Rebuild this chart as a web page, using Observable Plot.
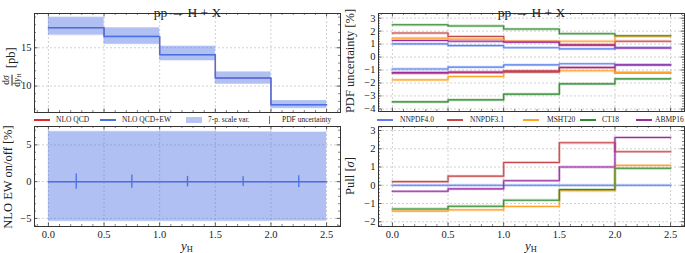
<!DOCTYPE html>
<html>
<head>
<meta charset="utf-8">
<script src="https://cdn.jsdelivr.net/npm/d3@7"></script>
<script src="https://cdn.jsdelivr.net/npm/@observablehq/plot@0.6"></script>
<style>
  html, body { margin: 0; padding: 0; background: #fff; }
  #root { position: relative; width: 685px; height: 253px; overflow: hidden; font-family: "Liberation Serif", serif; color: #222; }
  .abs { position: absolute; }
  .abs svg { display: block; }
  .ylab { position: absolute; transform: translate(-50%, -50%) rotate(-90deg); white-space: nowrap; font-size: 12.5px; line-height: 1; }
  .xlab { position: absolute; transform: translate(-50%, -50%); white-space: nowrap; font-size: 13px; line-height: 1; }
  .xlab sub, .ylab sub { font-size: 0.65em; vertical-align: -0.25em; font-style: normal; }
  .frac { display: inline-flex; flex-direction: column; align-items: center; vertical-align: middle; font-size: 9.5px; line-height: 1.05; margin-right: 2px; }
  .frac .num { border-bottom: 0.7px solid #222; padding: 0 1px; }
  .leg { position: absolute; font-size: 7.5px; line-height: 1; transform: translateY(-50%); white-space: nowrap; }
  .sw { position: absolute; }
</style>
</head>
<body>
<div id="root"></div>
<script>
// ---------- data ----------
const edges = [0, 0.5, 1.0, 1.5, 2.0, 2.5];
const binCenters = [0.25, 0.75, 1.25, 1.75, 2.25];
const xTickValues = [0, 0.5, 1.0, 1.5, 2.0, 2.5];
const title = "pp → H + X";

// top-left: dσ/dy_H [pb]
const xsecQCD   = [17.62, 16.49, 14.10, 11.05, 7.57];
const xsecQCDEW = [17.60, 16.47, 14.09, 11.04, 7.56];
const scaleHiQCD = [19.00, 17.64, 15.24, 11.86, 8.13];
const scaleLoQCD = [16.58, 15.38, 13.26, 10.22, 7.03];
const scaleHiEW  = [18.90, 17.56, 15.17, 11.80, 8.08];
const scaleLoEW  = [16.70, 15.50, 13.35, 10.30, 7.10];

// bottom-left: NLO EW on/off [%]
const ewQCD = [0, 0, 0, 0, 0];
const ewQCDEW = [0, 0, 0, 0, 0];
const ewScaleHiQCD = [6.85, 6.85, 6.85, 6.80, 6.75];
const ewScaleLoQCD = [-5.45, -5.45, -5.45, -5.45, -5.40];
const ewScaleHiEW = [6.75, 6.75, 6.75, 6.72, 6.68];
const ewScaleLoEW = [-5.35, -5.35, -5.35, -5.35, -5.32];
const pdfUncert = [1.05, 0.90, 0.72, 0.65, 0.80];

// top-right: PDF uncertainty [%]
const pdfSets = ["NNPDF4.0", "NNPDF3.1", "MSHT20", "CT18", "ABMP16"];
const pdfColors = ["#5b80ee", "#c8474a", "#ffa228", "#2f8a2f", "#9a2ca0"];
const nnpdf40Up = [1.02, 0.88, 0.72, 0.63, 0.72];
const nnpdf40Dn = [-0.92, -0.78, -0.60, -0.52, -0.60];
const nnpdf31Up = [1.85, 1.59, 1.20, 0.95, 1.22];
const nnpdf31Dn = [-1.25, -1.20, -1.06, -0.80, -1.20];
const msht20Up  = [1.46, 1.38, 1.22, 1.22, 1.60];
const msht20Dn  = [-1.76, -1.50, -1.17, -1.06, -1.20];
const ct18Up    = [2.49, 2.40, 2.16, 1.80, 1.64];
const ct18Dn    = [-3.46, -3.30, -2.86, -2.07, -1.68];
const abmp16Up  = [1.28, 1.22, 1.15, 0.92, 0.70];
const abmp16Dn  = [-1.19, -1.15, -1.14, -0.81, -0.60];

// bottom-right: Pull [σ]
const nnpdf40Pull = [0, 0, 0, 0, 0];
const nnpdf31Pull = [0.20, 0.50, 1.25, 2.33, 1.84];
const msht20Pull  = [-1.42, -1.35, -1.16, -0.30, 1.09];
const ct18Pull    = [-1.30, -1.15, -0.82, -0.24, 0.93];
const abmp16Pull  = [-0.33, -0.20, 0.25, 1.00, 2.62];

// ---------- helpers ----------
const blue = "#4a6fe3", red = "#e8242c";
const steps = vals => [...vals.map((v, i) => ({x: edges[i], y: v})), {x: edges[edges.length - 1], y: vals[vals.length - 1]}];
const band = (lo, hi) => [...lo.map((v, i) => ({x: edges[i], y1: v, y2: hi[i]})), {x: edges[edges.length - 1], y1: lo[lo.length - 1], y2: hi[hi.length - 1]}];
const xDomain = [-0.125, 2.625];
const xMinor = d3.range(-1, 27).map(i => i / 10).filter(v => Math.abs(v * 2 - Math.round(v * 2)) > 1e-6);

function panel({width, height, mt, mb, ml, mr, yDomain, yMajor, yMinor, xLabels, titleText, marks}) {
  const ih = height - mt - mb, iw = width - ml - mr;
  const tk = "#333";
  const yMin = yMinor.filter(v => v >= yDomain[0] && v <= yDomain[1] && !yMajor.some(m => Math.abs(m - v) < 1e-6));
  return Plot.plot({
    width, height, marginTop: mt, marginBottom: mb, marginLeft: ml, marginRight: mr,
    x: {domain: xDomain, axis: null},
    y: {domain: yDomain, axis: null},
    style: {fontFamily: "Liberation Serif, serif", fontSize: "10.5px", color: "#222", background: "transparent", overflow: "visible"},
    marks: [
      Plot.ruleX(xTickValues, {stroke: "#bdbdbd", strokeWidth: 0.7, strokeDasharray: "2,2"}),
      Plot.ruleY(yMajor, {stroke: "#bdbdbd", strokeWidth: 0.7, strokeDasharray: "2,2"}),
      ...marks,
      Plot.ruleX(xTickValues, {stroke: tk, strokeWidth: 0.8, insetTop: ih - 3.5}),
      Plot.ruleX(xTickValues, {stroke: tk, strokeWidth: 0.8, insetBottom: ih - 3.5}),
      Plot.ruleX(xMinor, {stroke: tk, strokeWidth: 0.6, insetTop: ih - 2}),
      Plot.ruleX(xMinor, {stroke: tk, strokeWidth: 0.6, insetBottom: ih - 2}),
      Plot.ruleY(yMajor, {stroke: tk, strokeWidth: 0.8, insetRight: iw - 3.5}),
      Plot.ruleY(yMajor, {stroke: tk, strokeWidth: 0.8, insetLeft: iw - 3.5}),
      Plot.ruleY(yMin, {stroke: tk, strokeWidth: 0.6, insetRight: iw - 2}),
      Plot.ruleY(yMin, {stroke: tk, strokeWidth: 0.6, insetLeft: iw - 2}),
      Plot.frame({stroke: "#333", strokeWidth: 1}),
      Plot.axisY({ticks: yMajor, tickSize: 0, tickPadding: 3, tickFormat: d3.format("d"), label: null, fontSize: 10.5}),
      xLabels ? Plot.axisX({ticks: xTickValues, tickSize: 0, tickPadding: 4, tickFormat: d3.format(".1f"), label: null, fontSize: 10.5}) : null,
      titleText ? Plot.text([titleText], {frameAnchor: "top", dy: -6.5, fontSize: 13.5, fill: "#222"}) : null
    ]
  });
}

function place(node, left, top) {
  const d = document.createElement("div");
  d.className = "abs";
  d.style.left = left + "px"; d.style.top = top + "px";
  d.appendChild(node);
  root.appendChild(d);
}
const root = document.getElementById("root");

// ---------- top-left ----------
place(panel({
  width: 345, height: 114, mt: 13, mb: 2, ml: 34, mr: 5,
  yDomain: [6.55, 19.47], yMajor: [10, 15], yMinor: d3.range(6, 21, 1), xLabels: false, titleText: title,
  marks: [
    Plot.areaY(band(scaleLoQCD, scaleHiQCD), {x: "x", y1: "y1", y2: "y2", curve: "step-after", fill: blue, fillOpacity: 0.25}),
    Plot.areaY(band(scaleLoEW, scaleHiEW), {x: "x", y1: "y1", y2: "y2", curve: "step-after", fill: blue, fillOpacity: 0.25}),
    Plot.line(steps(xsecQCD), {x: "x", y: "y", curve: "step-after", stroke: red, strokeWidth: 0.8}),
    Plot.line(steps(xsecQCDEW), {x: "x", y: "y", curve: "step-after", stroke: blue, strokeWidth: 1.5})
  ]
}), 0, 0);

// ---------- bottom-left ----------
place(panel({
  width: 345, height: 139, mt: 12, mb: 27, ml: 34, mr: 5,
  yDomain: [-6.1, 7.5], yMajor: [-5, 0, 5], yMinor: d3.range(-7, 8, 1), xLabels: true,
  marks: [
    Plot.areaY(band(ewScaleLoQCD, ewScaleHiQCD), {x: "x", y1: "y1", y2: "y2", curve: "step-after", fill: blue, fillOpacity: 0.25}),
    Plot.areaY(band(ewScaleLoEW, ewScaleHiEW), {x: "x", y1: "y1", y2: "y2", curve: "step-after", fill: blue, fillOpacity: 0.25}),
    Plot.line(steps(ewQCD), {x: "x", y: "y", curve: "step-after", stroke: red, strokeWidth: 0.6, strokeOpacity: 0.5}),
    Plot.line(steps(ewQCDEW), {x: "x", y: "y", curve: "step-after", stroke: blue, strokeWidth: 1.5}),
    Plot.ruleX(binCenters.map((c, i) => ({x: c, y1: -pdfUncert[i], y2: pdfUncert[i]})), {x: "x", y1: "y1", y2: "y2", stroke: blue, strokeWidth: 1.3})
  ]
}), 0, 114);

// ---------- top-right ----------
const upSeries = [nnpdf40Up, nnpdf31Up, msht20Up, ct18Up, abmp16Up];
const dnSeries = [nnpdf40Dn, nnpdf31Dn, msht20Dn, ct18Dn, abmp16Dn];
const pullSeries = [nnpdf40Pull, nnpdf31Pull, msht20Pull, ct18Pull, abmp16Pull];
function seriesMarks(list) {
  const m = [];
  list.forEach(([vals, col]) => {
    m.push(Plot.line(steps(vals), {x: "x", y: "y", curve: "step-after", stroke: col, strokeWidth: 2.8, strokeOpacity: 0.3}));
  });
  list.forEach(([vals, col]) => {
    m.push(Plot.line(steps(vals), {x: "x", y: "y", curve: "step-after", stroke: col, strokeWidth: 1.1}));
  });
  return m;
}
const trList = [];
pdfSets.forEach((s, i) => { trList.push([upSeries[i], pdfColors[i]]); trList.push([dnSeries[i], pdfColors[i]]); });
place(panel({
  width: 340, height: 113, mt: 13, mb: 2, ml: 33, mr: 1,
  yDomain: [-4.2, 3.36], yMajor: [-4, -3, -2, -1, 0, 1, 2, 3], yMinor: d3.range(-22, 18).map(i => i / 5), xLabels: false, titleText: title,
  marks: seriesMarks(trList)
}), 345, 0);

// ---------- bottom-right ----------
place(panel({
  width: 340, height: 139, mt: 12, mb: 27, ml: 33, mr: 1,
  yDomain: [-2.26, 3.22], yMajor: [-2, -1, 0, 1, 2, 3], yMinor: d3.range(-12, 17).map(i => i / 5), xLabels: true,
  marks: seriesMarks(pdfSets.map((s, i) => [pullSeries[i], pdfColors[i]]))
}), 345, 114);

// ---------- axis labels ----------
function html(cls, left, top, inner) {
  const d = document.createElement("div");
  d.className = cls; d.style.left = left + "px"; d.style.top = top + "px";
  d.innerHTML = inner; root.appendChild(d);
}
html("ylab", 12, 67, '<span class="frac"><span class="num">d<i>σ</i></span><span class="den">d<i>y</i><sub>H</sub></span></span> [pb]');
html("ylab", 8, 177, "NLO EW on/off [%]");
html("ylab", 350, 61, "PDF uncertainty [%]");
html("ylab", 350, 176, "Pull [<i>σ</i>]");
html("xlab", 187, 246, "<i>y</i><sub>H</sub>");
html("xlab", 531, 246, "<i>y</i><sub>H</sub>");

// ---------- legends ----------
function legLine(x, y, col) {
  const d = document.createElement("div"); d.className = "sw";
  Object.assign(d.style, {left: x + "px", top: (y - 0.6) + "px", width: "16px", height: "1.2px", background: col});
  root.appendChild(d);
}
function legText(x, y, t) {
  const d = document.createElement("div"); d.className = "leg";
  d.style.left = x + "px"; d.style.top = y + "px"; d.textContent = t; root.appendChild(d);
}
const ly = 120;
const leftLegend = ["NLO QCD", "NLO QCD+EW", "7-p. scale var.", "PDF uncertainty"];
legLine(34, ly, red); legText(56, ly, leftLegend[0]);
legLine(100, ly, blue); legText(122, ly, leftLegend[1]);
{ const d = document.createElement("div"); d.className = "sw";
  Object.assign(d.style, {left: "186px", top: (ly - 3) + "px", width: "16px", height: "6px", background: blue, opacity: 0.4}); root.appendChild(d); }
legText(208, ly, leftLegend[2]);
{ const d = document.createElement("div"); d.className = "sw";
  Object.assign(d.style, {left: "268.5px", top: (ly - 4) + "px", width: "1.3px", height: "8px", background: blue}); root.appendChild(d); }
legText(282, ly, leftLegend[3]);

const rlx = [377, 447, 523, 580, 636];
const rtx = [400, 470, 547, 602, 655];
pdfSets.forEach((s, i) => { legLine(rlx[i], ly, pdfColors[i]); legText(rtx[i], ly, s); });
</script>
</body>
</html>
